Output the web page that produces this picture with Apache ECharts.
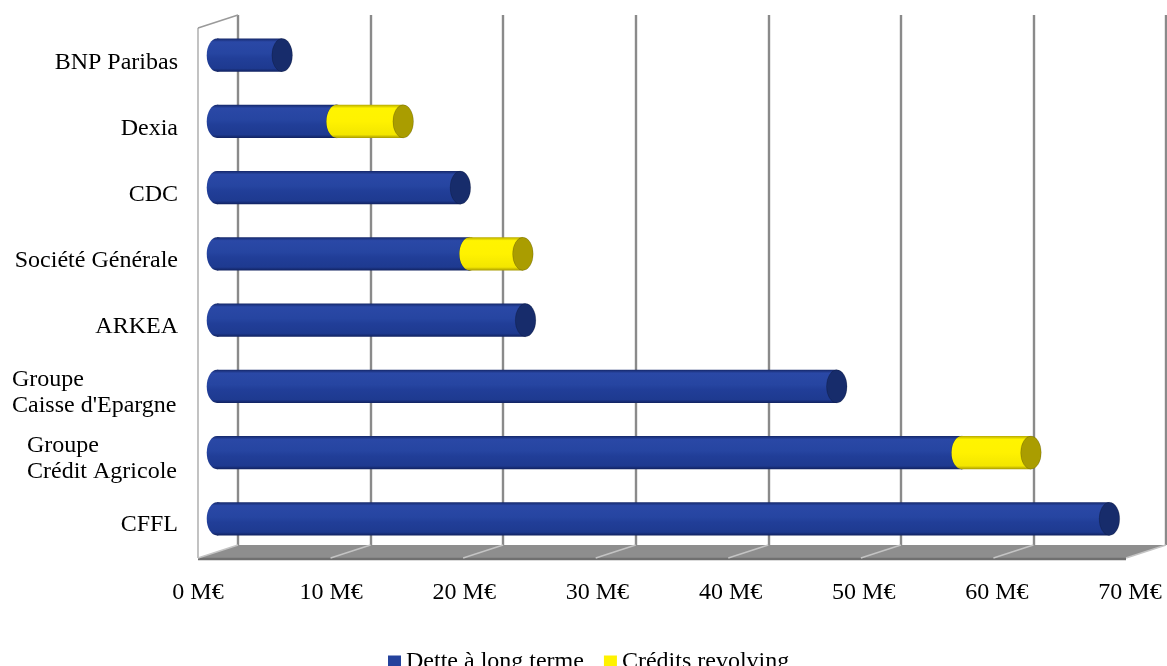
<!DOCTYPE html>
<html><head><meta charset="utf-8">
<script src="https://cdn.jsdelivr.net/npm/echarts@6/dist/echarts.min.js"></script>
<style>html,body{margin:0;padding:0;background:#fff}#c{width:1167px;height:666px}</style>
</head><body><div id="c"></div>
<script>
// ---- data ----
const categories = ['BNP Paribas', 'Dexia', 'CDC', 'Société Générale', 'ARKEA', "Groupe\nCaisse d'Epargne", 'Groupe\nCrédit Agricole', 'CFFL'];
const detteLongTerme = [4.9, 9.0, 18.3, 19.0, 23.2, 46.6, 56.0, 67.1];
const creditsRevolving = [0, 5.0, 0, 4.0, 0, 0, 5.2, 0];
const xTicks = [0, 10, 20, 30, 40, 50, 60, 70];
const tickSuffix = ' M€';
const seriesNames = ['Dette à long terme', 'Crédits revolving'];
const axisMin = 0, axisMax = 70, axisInterval = 10;

// ---- styling ----
const FONT = '"Liberation Serif", "Times New Roman", serif';
const DEPTH = [-40, 13];
const blue = { legend: '#24429c', cap: '#172c6b', stops: [[0, '#15286a'], [0.1, '#2a48a6'], [0.45, '#2645a1'], [0.6, '#213e98'], [0.9, '#1e3a90'], [1, '#112260']] };
const yellow = { legend: '#fff200', cap: '#aa9d00', stops: [[0, '#b8ab00'], [0.1, '#fff400'], [0.5, '#fff200'], [0.9, '#f3e600'], [1, '#a89b00']] };

function measure(t) {
  const c = document.createElement('canvas').getContext('2d');
  c.font = '24px ' + FONT;
  return c.measureText(t).width;
}
const rich = {};
const labelMap = {};
categories.forEach((c, i) => {
  const lines = c.split('\n');
  if (lines.length > 1) {
    const w = Math.ceil(Math.max(...lines.map(measure))) + 1;
    rich['l' + i] = { width: w, align: 'left', fontSize: 24, fontFamily: FONT, color: '#000', lineHeight: 26 };
    labelMap[c] = lines.map(l => '{l' + i + '|' + l + '}').join('\n');
  }
});

function grad(stops) {
  return new echarts.graphic.LinearGradient(0, 0, 0, 1, stops.map(s => ({ offset: s[0], color: s[1] })));
}
function cylinder(pal) {
  return function (params, api) {
    const ci = api.value(0), a = api.value(1), b = api.value(2);
    const p0 = api.coord([a, ci]), p1 = api.coord([b, ci]);
    const h = api.size([0, 1])[1] * 0.5, ry = h / 2, rx = h * 0.31;
    const g = grad(pal.stops);
    return {
      type: 'group', children: [
        { type: 'circle', x: p0[0], y: p0[1], scaleX: rx / ry, shape: { cx: 0, cy: 0, r: ry }, style: { fill: grad(pal.stops) } },
        { type: 'rect', shape: { x: p0[0], y: p0[1] - ry, width: p1[0] - p0[0], height: h }, style: { fill: g } },
        { type: 'circle', x: p1[0], y: p1[1], scaleX: rx / ry, shape: { cx: 0, cy: 0, r: ry }, style: { fill: pal.cap, stroke: 'rgba(0,0,0,0.25)', lineWidth: 0.8 } }
      ]
    };
  };
}

const blueData = categories.map((c, i) => [i, 0, detteLongTerme[i]]);
const yellowData = [];
categories.forEach((c, i) => { if (creditsRevolving[i] > 0) yellowData.push([i, detteLongTerme[i], detteLongTerme[i] + creditsRevolving[i]]); });

const chart = echarts.init(document.getElementById('c'), null, { renderer: 'canvas' });
chart.setOption({
  animation: false,
  backgroundColor: '#fff',
  grid: [
    { left: 217, right: 19, top: 22, height: 530 },   // bars (mid depth)
    { left: 238, right: 1, top: 15, bottom: 121 },     // back wall
    { left: 198, right: 37, top: 30, height: 528 }     // front plane (labels)
  ],
  xAxis: [
    { gridIndex: 0, type: 'value', min: axisMin, max: axisMax, interval: axisInterval, show: false, splitLine: { show: false } },
    { gridIndex: 1, type: 'value', min: axisMin, max: axisMax, interval: axisInterval,
      axisLabel: { show: false }, axisLine: { show: false }, axisTick: { show: false },
      splitLine: { show: true, lineStyle: { color: '#8a8a8a', width: 2.4 } } },
    { gridIndex: 2, type: 'value', min: axisMin, max: axisMax, interval: axisInterval,
      axisLine: { show: false }, axisTick: { show: false }, splitLine: { show: false },
      axisLabel: { formatter: v => v + tickSuffix, fontSize: 24, fontFamily: FONT, color: '#000', margin: 23 } }
  ],
  yAxis: [
    { gridIndex: 0, type: 'category', data: categories, inverse: true, show: false },
    { gridIndex: 1, type: 'value', min: 0, max: 1, show: false, splitLine: { show: false } },
    { gridIndex: 2, type: 'category', data: categories, inverse: true,
      axisLine: { show: false }, axisTick: { show: false }, splitLine: { show: false },
      axisLabel: { margin: 20, fontSize: 24, fontFamily: FONT, color: '#000', lineHeight: 26, interval: 0,
        formatter: v => labelMap[v] || v, rich: rich } }
  ],
  legend: {
    data: seriesNames, left: 383, top: 645, itemWidth: 13, itemHeight: 13, itemGap: 20, icon: 'rect',
    textStyle: { fontSize: 24, fontFamily: FONT, color: '#000' }
  },
  series: [
    { // floor and left wall
      type: 'custom', name: 'floor', xAxisIndex: 1, yAxisIndex: 1, z: 1, silent: true,
      data: [[axisMin, axisMax]],
      renderItem: (params, api) => {
        const b0 = api.coord([api.value(0), 0]), b1 = api.coord([api.value(1), 0]);
        const t0 = api.coord([api.value(0), 1]);
        const f0 = [b0[0] + DEPTH[0], b0[1] + DEPTH[1]], f1 = [b1[0] + DEPTH[0], b1[1] + DEPTH[1]];
        const ft = [t0[0] + DEPTH[0], t0[1] + DEPTH[1]];
        return { type: 'group', children: [
          { type: 'polygon', shape: { points: [b0, b1, f1, f0] }, style: { fill: '#8e8e8e' } },
          { type: 'line', shape: { x1: f0[0], y1: f0[1] + 1, x2: f1[0], y2: f1[1] + 1 }, style: { stroke: '#707070', lineWidth: 2.5 } },
          { type: 'line', shape: { x1: ft[0], y1: ft[1], x2: f0[0], y2: f0[1] }, style: { stroke: '#9a9a9a', lineWidth: 1.2 } },
          { type: 'line', shape: { x1: ft[0], y1: ft[1], x2: t0[0], y2: t0[1] }, style: { stroke: '#9a9a9a', lineWidth: 1.5 } }
        ] };
      }
    },
    { // floor grid lines
      type: 'custom', name: 'floorLines', xAxisIndex: 1, yAxisIndex: 1, z: 2, silent: true,
      data: xTicks.map(v => [v]),
      renderItem: (params, api) => {
        const b = api.coord([api.value(0), 0]);
        return { type: 'line', shape: { x1: b[0], y1: b[1], x2: b[0] + DEPTH[0], y2: b[1] + DEPTH[1] }, style: { stroke: '#c4c4c4', lineWidth: 1.4 } };
      }
    },
    { type: 'custom', name: seriesNames[0], xAxisIndex: 0, yAxisIndex: 0, z: 3,
      itemStyle: { color: blue.legend }, encode: { x: [1, 2], y: 0 }, data: blueData, renderItem: cylinder(blue) },
    { type: 'custom', name: seriesNames[1], xAxisIndex: 0, yAxisIndex: 0, z: 4,
      itemStyle: { color: yellow.legend }, encode: { x: [1, 2], y: 0 }, data: yellowData, renderItem: cylinder(yellow) }
  ]
});
</script></body></html>
